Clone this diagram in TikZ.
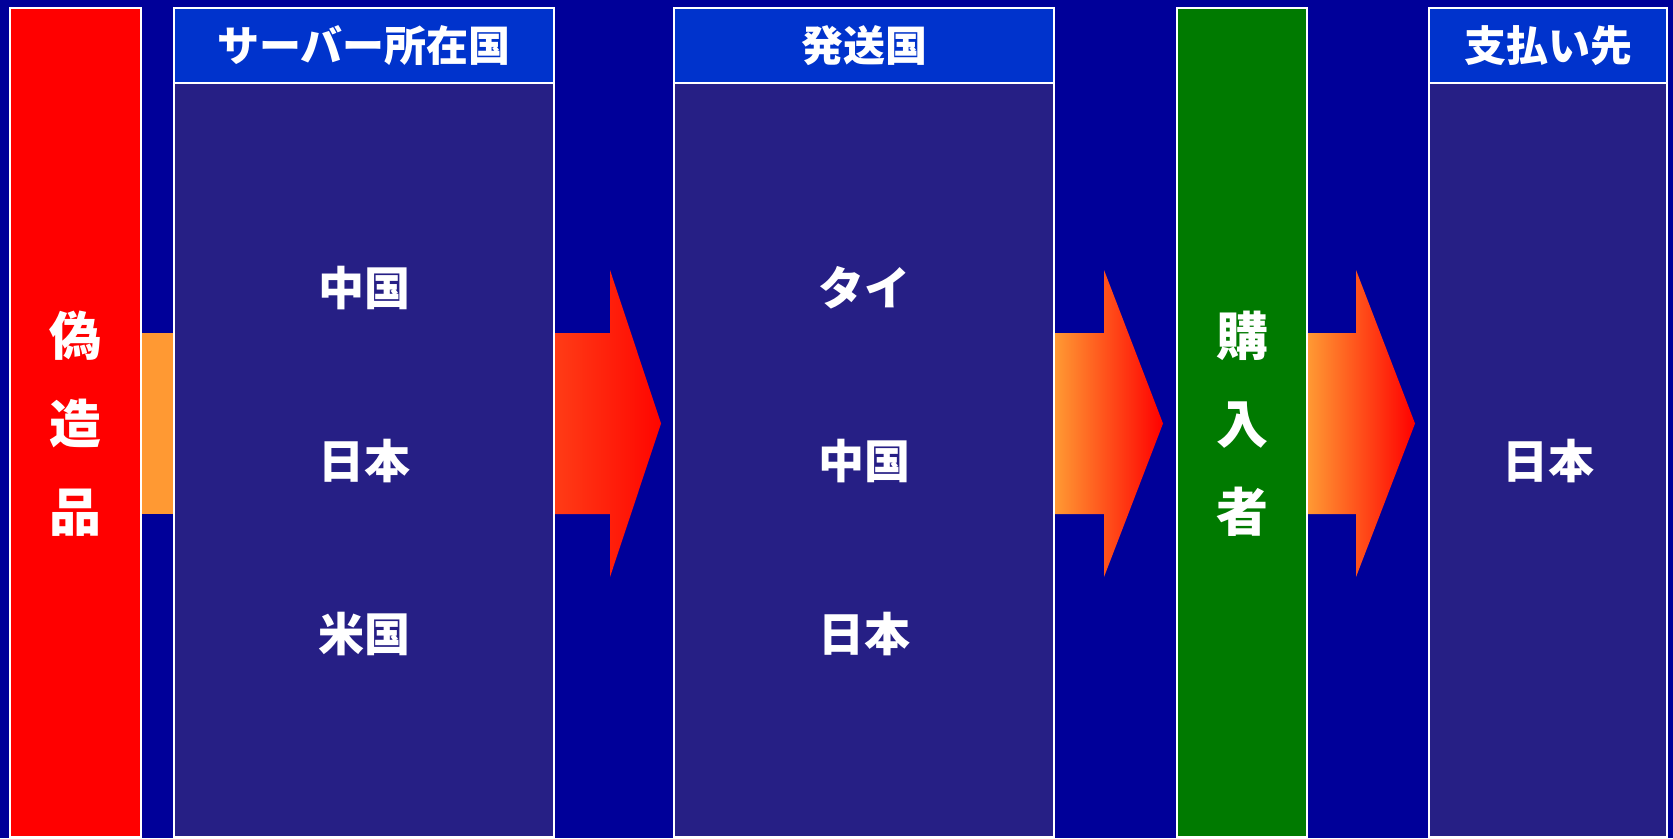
\documentclass[tikz,border=0pt]{standalone}
\usepackage{fontspec}
\newfontfamily\jp{Noto Sans CJK JP}
\definecolor{bg}{RGB}{0,0,153}
\definecolor{hdr}{RGB}{0,51,204}
\definecolor{bodyc}{RGB}{38,31,133}
\definecolor{redc}{RGB}{255,0,0}
\definecolor{grn}{RGB}{0,122,0}
\definecolor{orng}{RGB}{255,153,51}
\definecolor{redA}{RGB}{255,60,22}
\definecolor{redB}{RGB}{255,5,0}
\tikzset{
  x=1pt, y=-1pt,
  panel/.style={draw=white, line width=2pt, inner sep=0pt, outer sep=0pt, anchor=north west},
  txt/.style={text=white, font=\jp\bfseries\fontsize{46}{50}\selectfont, inner sep=0pt},
  htxt/.style={text=white, font=\jp\bfseries\fontsize{42}{48}\selectfont, inner sep=0pt},
  vtxt/.style={text=white, font=\jp\bfseries\fontsize{52}{88}\selectfont, align=center, inner sep=0pt},
  arrowA/.style={left color=redA, right color=redB},
  arrowB/.style={left color=orng, middle color=orng!85!redc, right color=redc},
}
\begin{document}
\begin{tikzpicture}
\fill[bg] (0,0) rectangle (1673,838);
\useasboundingbox (0,0) rectangle (1673,838);
% panels
\node[panel, fill=redc, minimum width=131pt, minimum height=829pt] (fake) at (10,8) {};
\node[panel, fill=hdr, minimum width=380pt, minimum height=75pt] (srvh) at (174,8) {};
\node[panel, fill=bodyc, minimum width=380pt, minimum height=754pt] (srvb) at (174,83) {};
\node[panel, fill=hdr, minimum width=380pt, minimum height=75pt] (shph) at (674,8) {};
\node[panel, fill=bodyc, minimum width=380pt, minimum height=754pt] (shpb) at (674,83) {};
\node[panel, fill=grn, minimum width=130pt, minimum height=829pt] (buy) at (1177,8) {};
\node[panel, fill=hdr, minimum width=238pt, minimum height=75pt] (payh) at (1429,8) {};
\node[panel, fill=bodyc, minimum width=238pt, minimum height=754pt] (payb) at (1429,83) {};
% header texts
\node[htxt] (t1) at (srvh.center) {サーバー所在国};
\node[htxt] (t2) at (shph.center) {発送国};
\node[htxt] (t3) at (payh.center) {支払い先};
% vertical texts
\node[vtxt] (fk) at (fake.center |- 0,424) {偽\\造\\品};
\node[vtxt] (by) at (buy.center |- 0,424) {購\\入\\者};
% body texts
\node[txt] (s1) at (srvb.center |- 0,288) {中国};
\node[txt] (s2) at (srvb.center |- 0,461) {日本};
\node[txt] (s3) at (srvb.center |- 0,634) {米国};
\node[txt] (p1) at (shpb.center |- 0,288) {タイ};
\node[txt] (p2) at (shpb.center |- 0,461) {中国};
\node[txt] (p3) at (shpb.center |- 0,634) {日本};
\node[txt] (q1) at (payb.center |- 0,461) {日本};
% connectors
\fill[orng] ([xshift=1pt]fake.east |- 0,333) rectangle ([xshift=-1pt]srvb.west |- 0,514);
\shade[arrowA] ([xshift=1pt]srvb.east |- 0,333) -- (610,333) -- (610,270) -- (661,423.5)
  -- (610,577) -- (610,514) -- ([xshift=1pt]srvb.east |- 0,514) -- cycle;
\shade[arrowB] ([xshift=1pt]shpb.east |- 0,333) -- (1104,333) -- (1104,270) -- (1163,423.5)
  -- (1104,577) -- (1104,514) -- ([xshift=1pt]shpb.east |- 0,514) -- cycle;
\shade[arrowB] ([xshift=1pt]buy.east |- 0,333) -- (1356,333) -- (1356,270) -- (1415,423.5)
  -- (1356,577) -- (1356,514) -- ([xshift=1pt]buy.east |- 0,514) -- cycle;
\end{tikzpicture}
\end{document}
